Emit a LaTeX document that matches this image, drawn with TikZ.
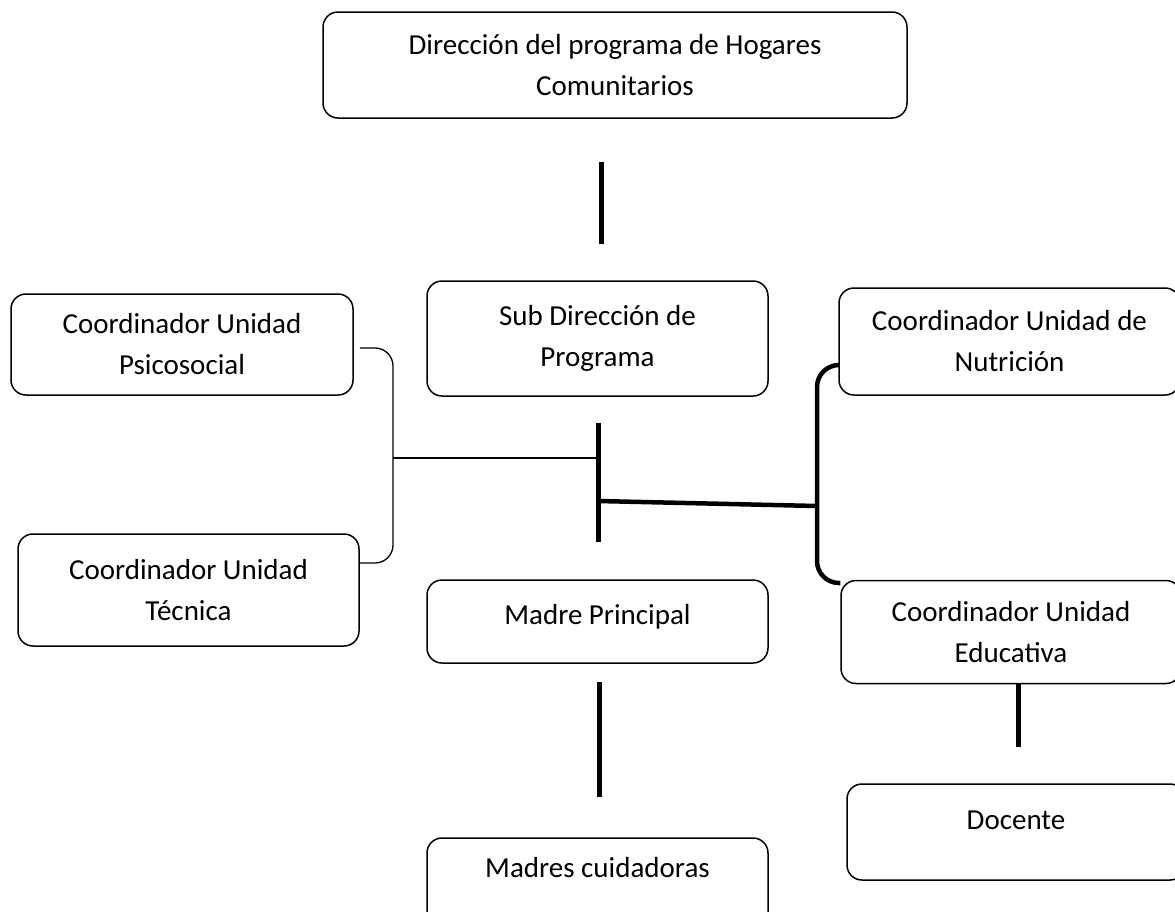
\documentclass[tikz,border=0pt]{standalone}
\usepackage{fontspec}
\setmainfont{Carlito}
\begin{document}
\begin{tikzpicture}[x=1pt,y=-1pt]
\tikzstyle{every node}+=[inner sep=0pt]
\tikzstyle{box}=[draw=black, line width=1.5pt, rounded corners=15pt, align=center, font=\fontsize{29}{41}\selectfont]
\tikzstyle{bar}=[line width=5pt]
\tikzstyle{fine}=[line width=1.3pt, rounded corners=18pt]
\tikzstyle{heavy}=[line width=4.5pt, rounded corners=22pt]
\useasboundingbox (0,0) rectangle (1175,911);
\clip (0,0) rectangle (1175,911);
\node[box, minimum width=584pt, minimum height=106pt] (dir) at (615,65) {Dirección del programa de Hogares\\Comunitarios};
\node[box, minimum width=341pt, minimum height=115pt] (sub) at (597.5,338.5) {Sub Dirección de\\Programa};
\node[box, minimum width=342pt, minimum height=101pt] (psico) at (182,344.5) {Coordinador Unidad\\Psicosocial};
\node[box, minimum width=341pt, minimum height=107pt] (nutri) at (1009.5,341.5) {Coordinador Unidad de\\Nutrición};
\node[box, minimum width=341pt, minimum height=112pt] (tec) at (188.5,590) {Coordinador Unidad\\Técnica};
\node[box, minimum width=341pt, minimum height=83pt, text height=20pt, text depth=14pt] (madre) at (597.5,621.5) {Madre Principal};
\node[box, minimum width=340pt, minimum height=103pt] (educ) at (1011,632) {Coordinador Unidad\\Educativa};
\node[box, minimum width=338pt, minimum height=96pt, text height=20pt, text depth=25pt] (doc) at (1016,832) {Docente};
\node[box, minimum width=341pt, minimum height=96pt, text height=20pt, text depth=37pt] (madres) at (597.5,886) {Madres cuidadoras};
\coordinate (t1) at (601.5,162);
\coordinate (t2) at (601.5,244);
\coordinate (m1) at (598,423);
\coordinate (m2) at (598,542);
\coordinate (lj) at (393,458);
\coordinate (hj) at (598,501);
\coordinate (rj) at (817,506);
\coordinate (b1) at (599,682);
\coordinate (b2) at (599,797);
\coordinate (e1) at (1018,683);
\coordinate (e2) at (1018,747);
\draw[bar] (t1) -- (t2);
\draw[bar] (m1) -- (m2);
\draw[fine] ([xshift=6pt,yshift=-3.5pt]psico.east) -| (lj) |- ([yshift=27pt]tec.east);
\draw[fine] (lj) -- (lj -| m1);
\draw[heavy] ([yshift=-23.5pt]nutri.west) -| (rj) |- ([yshift=49pt]educ.west);
\draw[heavy] (hj) -- (rj);
\draw[bar] (b1) -- (b2);
\draw[bar] (e1) -- (e2);
\end{tikzpicture}
\end{document}
